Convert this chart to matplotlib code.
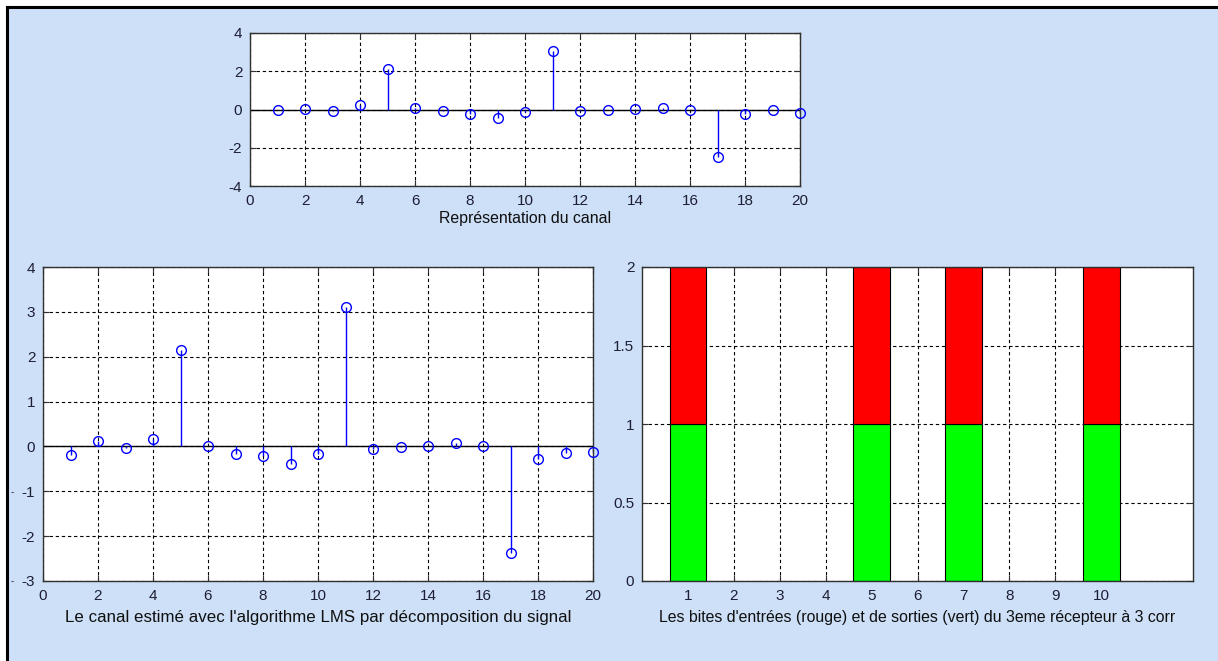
import matplotlib
matplotlib.use("Agg")
import matplotlib.pyplot as plt
from matplotlib.patches import Rectangle
from matplotlib.lines import Line2D

plt.rcParams['font.family'] = ['Liberation Sans', 'DejaVu Sans']
plt.rcParams['axes.unicode_minus'] = False

# ---- data ----
taps = list(range(1, 21))
canal = [0.0, 0.05, -0.1, 0.24, 2.13, 0.1, -0.1, -0.24, -0.46, -0.15,
         3.08, -0.1, 0.0, 0.05, 0.1, 0.0, -2.5, -0.24, 0.0, -0.16]
canal_lms = [-0.19, 0.11, -0.03, 0.16, 2.15, 0.02, -0.17, -0.21, -0.40, -0.17,
             3.10, -0.06, -0.01, 0.02, 0.08, 0.02, -2.37, -0.27, -0.14, -0.12]

bit_pos = [1, 2, 3, 4, 5, 6, 7, 8, 9, 10]
bits_out = [1, 0, 0, 0, 1, 0, 1, 0, 0, 1]   # sorties (vert)
bits_in = [1, 0, 0, 0, 1, 0, 1, 0, 0, 1]    # entrées (rouge)

label_top = "Représentation du canal"
label_left = "Le canal estimé avec l'algorithme LMS par décomposition du signal"
label_right = "Les bites d'entrées (rouge) et de sorties (vert) du 3eme récepteur à 3 corr"

W, H = 1218, 661
BG = '#cde0f7'
TXT = '#1e1e34'
FS_TICK = 11
FS_LAB = 11.4

fig = plt.figure(figsize=(W / 100, H / 100), dpi=100, facecolor='white')

# window frame: blue panel with a dark edge on top and left
fig.patches.append(Rectangle((8 / W, 0), 1, 1 - 7 / H, transform=fig.transFigure,
                             facecolor=BG, edgecolor='none', zorder=-10))
fig.lines.append(Line2D([7 / W, 1], [1 - 6.5 / H, 1 - 6.5 / H], transform=fig.transFigure,
                        color='black', lw=2.2))
fig.lines.append(Line2D([7 / W, 7 / W], [0, 1 - 6.5 / H], transform=fig.transFigure,
                        color='black', lw=2.2))


def px_axes(left, top, right, bottom):
    return fig.add_axes([left / W, 1 - bottom / H, (right - left) / W, (bottom - top) / H])


def style(ax):
    ax.set_facecolor('white')
    for s in ax.spines.values():
        s.set_color('#303030')
        s.set_linewidth(1.0)
    ax.tick_params(direction='in', length=4, width=0.8, colors='#303030',
                   labelcolor=TXT, labelsize=FS_TICK, pad=5.5, top=True, right=True)
    ax.grid(True, color='black', linestyle=(0, (3, 2.5)), linewidth=0.8)


def stem_plot(ax, x, y):
    ax.axhline(0, color='black', lw=1.0, zorder=2)
    ml, sl, bl = ax.stem(x, y, linefmt='-', markerfmt='o', basefmt=' ')
    plt.setp(sl, color='#0000ff', linewidth=1.0)
    plt.setp(ml, markerfacecolor='none', markeredgecolor='#0000ff',
             markersize=7, markeredgewidth=1.0, clip_on=False, zorder=4)
    ax.set_xlim(0, 20)
    ax.set_xticks(range(0, 21, 2))


# top: channel
ax1 = px_axes(250, 33, 800, 186)
style(ax1)
stem_plot(ax1, taps, canal)
ax1.set_ylim(-4, 4)
ax1.set_yticks([-4, -2, 0, 2, 4])
ax1.set_xlabel(label_top, fontsize=FS_LAB, color='#101010', labelpad=2.5)

# bottom left: LMS estimate
ax2 = px_axes(43, 267, 593, 581)
style(ax2)
stem_plot(ax2, taps, canal_lms)
ax2.set_ylim(-3, 4)
ax2.set_yticks(range(-3, 5))
ax2.set_xlabel(label_left, fontsize=12.2, color='#101010', labelpad=5)

# bottom right: stacked bits (only the set bits are drawn as bars)
ax3 = px_axes(642, 267, 1193, 581)
style(ax3)
ax3.set_axisbelow(True)
on_pos = [p for p, b in zip(bit_pos, bits_out) if b > 0]
on_out = [b for b in bits_out if b > 0]
on_in = [b for b in bits_in if b > 0]
ax3.bar(on_pos, on_out, width=0.8, color='#00ff00', edgecolor='black', linewidth=0.8)
ax3.bar(on_pos, on_in, width=0.8, bottom=on_out, color='#ff0000',
        edgecolor='black', linewidth=0.8)
ax3.set_xlim(0, 12)
ax3.set_ylim(0, 2)
ax3.set_xticks(bit_pos)
ax3.set_yticks([0, 0.5, 1, 1.5, 2])
ax3.set_yticklabels(['0', '0.5', '1', '1.5', '2'])
ax3.set_xlabel(label_right, fontsize=FS_LAB, color='#101010', labelpad=5.5)

# stray marks at the left edge of the lower-left plot
for yy in (492, 581):
    fig.text(12 / W, 1 - yy / H, '-', fontsize=7, color=TXT, ha='center', va='center')

fig.savefig('out.png', dpi=100, facecolor=fig.get_facecolor())
